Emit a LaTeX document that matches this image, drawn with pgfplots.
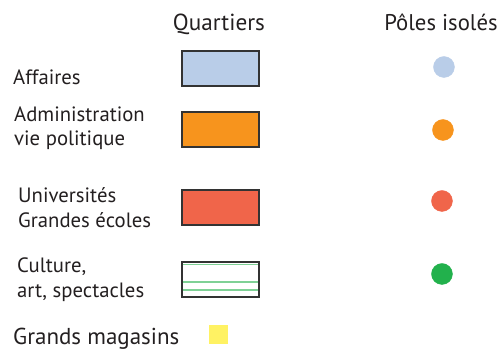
\documentclass[border=0pt]{standalone}
\usepackage{pgfplots}
\pgfplotsset{compat=1.18}
\usepackage{fontspec}
\setmainfont{PT Sans}
\definecolor{txt}{HTML}{231F20}
\definecolor{cblue}{HTML}{B9CDE8}
\definecolor{corange}{HTML}{F7941D}
\definecolor{cred}{HTML}{F0654A}
\definecolor{cgreen}{HTML}{22B14C}
\definecolor{lgreen}{HTML}{7FD196}
\definecolor{cyellow}{HTML}{FFF263}
\definecolor{bord}{HTML}{333333}
\begin{document}
\begin{tikzpicture}
\begin{axis}[
  width=501bp, height=354bp, scale only axis,
  xmin=0, xmax=501, ymin=0, ymax=354, y dir=reverse,
  hide axis, clip=false,
]
\path (rel axis cs:0,0) rectangle (rel axis cs:1,1);
% headers
\node[anchor=base, text=txt, font=\fontsize{23.3}{27}\selectfont] at (axis cs:219,31) {Quartiers};
\node[anchor=base, text=txt, font=\fontsize{22.8}{27}\selectfont] at (axis cs:441,31) {Pôles isolés};
% labels
\begin{scope}[every node/.style={anchor=base west, text=txt, font=\fontsize{20.8}{24}\selectfont, inner sep=0pt}]
\node at (axis cs:13,85) {Affaires};
\node at (axis cs:14,122) {Administration};
\node at (axis cs:14,146) {vie politique};
\node at (axis cs:18,203) {Universités};
\node at (axis cs:18,228) {Grandes écoles};
\node at (axis cs:17,273) {Culture,};
\node at (axis cs:17,298) {art, spectacles};
\node[font=\fontsize{23.1}{26}\selectfont] at (axis cs:13,345) {Grands magasins};
\end{scope}
% rectangles (Quartiers)
\addplot[fill=cblue, draw=bord, line width=2bp] coordinates {(182,51) (259,51) (259,86) (182,86)} --cycle;
\addplot[fill=corange, draw=bord, line width=2bp] coordinates {(182,112) (259,112) (259,147) (182,147)} --cycle;
\addplot[fill=cred, draw=bord, line width=2bp] coordinates {(182,190) (259,190) (259,225) (182,225)} --cycle;
\addplot[fill=white, draw=none] coordinates {(182,262) (259,262) (259,297) (182,297)} --cycle;
\addplot[draw=lgreen, line width=1.8bp] coordinates {(183,264.5) (258,264.5)};
\addplot[draw=lgreen, line width=1.8bp] coordinates {(183,282) (258,282)};
\addplot[draw=lgreen, line width=1.8bp] coordinates {(183,290) (258,290)};
\addplot[fill=none, draw=bord, line width=2bp] coordinates {(182,262) (259,262) (259,297) (182,297)} --cycle;
% yellow square
\addplot[fill=cyellow, draw=none] coordinates {(209,325) (228,325) (228,344) (209,344)} --cycle;
% circles (Poles isoles)
\addplot[only marks, mark=*, mark size=10.5bp, color=cblue] coordinates {(444,67)};
\addplot[only marks, mark=*, mark size=10.5bp, color=corange] coordinates {(443,130)};
\addplot[only marks, mark=*, mark size=10.5bp, color=cred] coordinates {(442,201)};
\addplot[only marks, mark=*, mark size=10.5bp, color=cgreen] coordinates {(442,274)};
\end{axis}
\end{tikzpicture}
\end{document}
